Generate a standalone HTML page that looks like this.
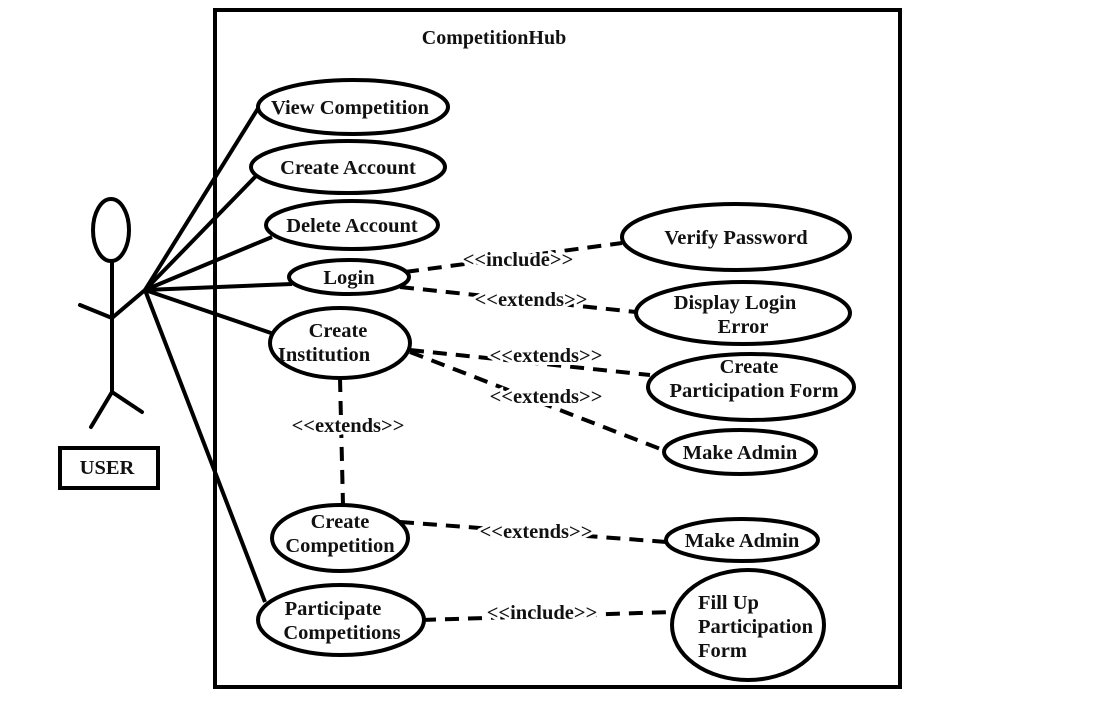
<!DOCTYPE html>
<html><head><meta charset="utf-8"><style>
body{margin:0;background:#fff}
svg text{font-family:"Liberation Serif",serif;font-weight:bold;font-size:20.5px;fill:#111}
.st text{paint-order:stroke;stroke:#fff;stroke-width:6px}
</style></head><body>
<svg width="1097" height="697" viewBox="0 0 1097 697">
<rect x="215" y="10" width="685" height="677" fill="none" stroke="#000" stroke-width="4"/>
<text x="494" y="44" text-anchor="middle" style="font-size:20px">CompetitionHub</text>
<g stroke="#000" stroke-width="4" fill="none" stroke-linecap="round">
<ellipse cx="111" cy="230" rx="18" ry="31"/>
<line x1="112" y1="262" x2="112" y2="392"/>
<line x1="80" y1="305" x2="112" y2="318"/>
<line x1="112" y1="318" x2="145" y2="290"/>
<line x1="112" y1="392" x2="91" y2="427"/>
<line x1="112" y1="392" x2="142" y2="412"/>
</g>
<rect x="60" y="448" width="98" height="40" fill="none" stroke="#000" stroke-width="4"/>
<text x="107" y="474" text-anchor="middle">USER</text>
<g stroke="#000" stroke-width="4">
<line x1="145" y1="290" x2="262" y2="102"/>
<line x1="145" y1="290" x2="256" y2="176"/>
<line x1="145" y1="290" x2="272" y2="237"/>
<line x1="145" y1="290" x2="292" y2="284"/>
<line x1="145" y1="290" x2="271" y2="333"/>
<line x1="145" y1="290" x2="265" y2="602"/>
</g>
<g stroke="#000" stroke-width="4" stroke-dasharray="14,9" fill="none">
<line x1="405" y1="272" x2="622" y2="243"/>
<line x1="400" y1="287" x2="636" y2="312"/>
<line x1="410" y1="350" x2="650" y2="375"/>
<line x1="410" y1="352" x2="663" y2="450"/>
<line x1="340" y1="378" x2="343" y2="505"/>
<line x1="400" y1="522" x2="667" y2="542"/>
<line x1="422" y1="620" x2="672" y2="612"/>
</g>
<g stroke="#000" stroke-width="4" fill="#fff">
<ellipse cx="353" cy="107" rx="95" ry="27"/>
<ellipse cx="348" cy="167" rx="97" ry="26"/>
<ellipse cx="352" cy="225" rx="86" ry="24"/>
<ellipse cx="349" cy="277" rx="60" ry="17"/>
<ellipse cx="340" cy="343" rx="70" ry="35"/>
<ellipse cx="736" cy="237" rx="114" ry="33"/>
<ellipse cx="743" cy="313" rx="107" ry="31"/>
<ellipse cx="751" cy="387" rx="103" ry="33"/>
<ellipse cx="740" cy="452" rx="76" ry="22"/>
<ellipse cx="340" cy="538" rx="68" ry="33"/>
<ellipse cx="742" cy="540" rx="76" ry="21"/>
<ellipse cx="341" cy="620" rx="83" ry="35"/>
<ellipse cx="748" cy="625" rx="76" ry="55"/>
</g>
<g text-anchor="middle">
<text x="350" y="114">View Competition</text>
<text x="348" y="174">Create Account</text>
<text x="352" y="232">Delete Account</text>
<text x="349" y="284">Login</text>
<text x="338" y="337">Create</text>
<text x="324" y="361">Institution</text>
<text x="736" y="244">Verify Password</text>
<text x="735" y="309">Display Login</text>
<text x="743" y="333">Error</text>
<text x="749" y="373">Create</text>
<text x="754" y="397">Participation Form</text>
<text x="740" y="459">Make Admin</text>
<text x="340" y="528">Create</text>
<text x="340" y="552">Competition</text>
<text x="742" y="547">Make Admin</text>
<text x="333" y="615">Participate</text>
<text x="342" y="639">Competitions</text>
</g>
<g>
<text x="698" y="609">Fill Up</text>
<text x="698" y="633">Participation</text>
<text x="698" y="657">Form</text>
</g>
<g class="st" text-anchor="middle" style="font-size:19.5px">
<text x="518" y="266">&lt;&lt;include&gt;&gt;</text>
<text x="531" y="306">&lt;&lt;extends&gt;&gt;</text>
<text x="546" y="362">&lt;&lt;extends&gt;&gt;</text>
<text x="546" y="403">&lt;&lt;extends&gt;&gt;</text>
<text x="348" y="432">&lt;&lt;extends&gt;&gt;</text>
<text x="536" y="538">&lt;&lt;extends&gt;&gt;</text>
<text x="542" y="619">&lt;&lt;include&gt;&gt;</text>
</g>
</svg>
</body></html>
